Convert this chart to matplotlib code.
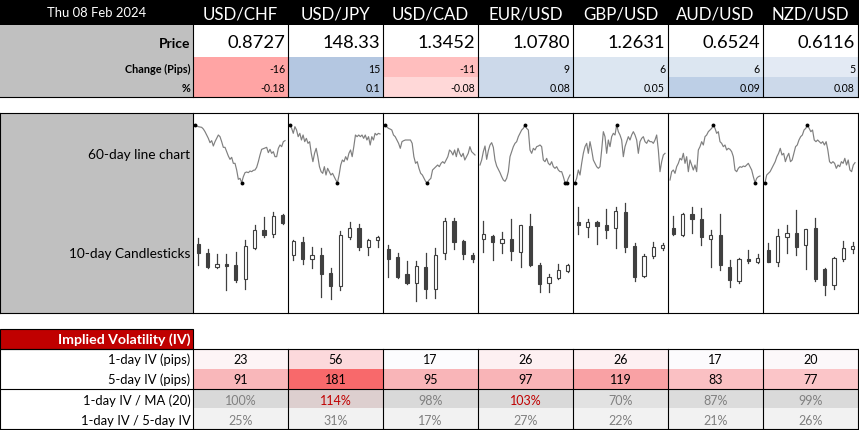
import matplotlib
matplotlib.use("Agg")
import matplotlib.pyplot as plt
from matplotlib.patches import Rectangle

plt.rcParams['font.family'] = ['Lato', 'DejaVu Sans']

# ---------------- data ----------------
date_label = "Thu 08 Feb 2024"
pairs = ["USD/CHF", "USD/JPY", "USD/CAD", "EUR/USD", "GBP/USD", "AUD/USD", "NZD/USD"]
prices = ["0.8727", "148.33", "1.3452", "1.0780", "1.2631", "0.6524", "0.6116"]
change_pips = [-16, 15, -11, 9, 6, 6, 5]
change_pct = [-0.18, 0.1, -0.08, 0.08, 0.05, 0.09, 0.08]

# 60-day line chart (relative index, read from sparklines)
line_chf = [173, 170, 168, 167, 166, 161, 153, 143, 133, 120, 126, 110, 123, 133, 143, 138, 123, 106, 106, 93,
            80, 70, 76, 58, 58, 38, 10, 13, 0, 18, 30, 32, 30, 35, 33, 37, 38, 46, 63, 83,
            100, 102, 104, 106, 90, 100, 88, 93, 78, 78, 103, 113, 108, 123, 126]
line_jpy = [173, 163, 148, 168, 158, 138, 148, 128, 143, 123, 133, 118, 123, 88, 63, 88, 103, 78, 48, 33,
            28, 48, 23, 43, 33, 23, 28, 18, 8, 0, 23, 53, 68, 63, 78, 68, 88, 98, 78, 108,
            143, 138, 143, 138, 143, 133, 143, 128, 138, 113, 138, 128, 148, 143, 148, 146]
line_cad = [173, 168, 163, 161, 158, 143, 138, 128, 118, 103, 123, 126, 128, 128, 128, 128, 118, 78, 58, 63,
            43, 28, 23, 13, 3, 0, 8, 13, 38, 43, 48, 53, 48, 58, 63, 58, 68, 78, 98, 93,
            83, 98, 78, 103, 88, 78, 88, 68, 78, 88, 108, 93, 88, 83]
line_eur = [53, 68, 93, 110, 70, 96, 113, 120, 106, 68, 50, 40, 30, 18, 8, 4, 13, 33, 78, 93,
            108, 118, 123, 138, 148, 158, 163, 173, 163, 158, 98, 88, 103, 98, 108, 110, 113, 108, 68, 63,
            73, 58, 53, 63, 48, 43, 48, 38, 33, 33, 18, 0, 0, 13, 23]
line_gbp = [0, 13, 38, 23, 58, 88, 108, 118, 88, 123, 98, 68, 58, 48, 43, 48, 98, 153, 138, 88,
            128, 108, 138, 148, 143, 173, 153, 143, 128, 78, 108, 123, 138, 128, 143, 153, 143, 128, 88, 123,
            133, 138, 123, 118, 128, 123, 123, 118, 128, 143, 98, 33, 63, 83, 88]
line_aud = [8, 33, 38, 28, 48, 58, 73, 68, 88, 58, 78, 33, 68, 53, 38, 53, 33, 98, 108, 123,
            113, 138, 143, 153, 158, 163, 173, 163, 148, 153, 123, 118, 108, 113, 98, 103, 100, 93, 78, 38,
            33, 43, 48, 46, 50, 48, 53, 58, 48, 38, 18, 0, 13, 18, 20]
line_nzd = [0, 23, 28, 33, 43, 53, 63, 78, 88, 103, 83, 88, 63, 78, 88, 63, 68, 88, 108, 113,
            128, 138, 143, 158, 163, 173, 163, 153, 158, 128, 123, 128, 123, 118, 123, 113, 123, 98, 63, 58,
            63, 58, 43, 53, 48, 63, 58, 73, 53, 68, 38, 33, 53, 60]
lines_60d = [line_chf, line_jpy, line_cad, line_eur, line_gbp, line_aud, line_nzd]

# 10-day candles: (open, high, low, close) relative index
ohlc_chf = [(207, 225, 145, 180), (180, 192, 137, 140), (138, 177, 136, 147), (147, 177, 70, 141), (144, 183, 93, 99),
            (104, 219, 72, 201), (197, 264, 194, 249), (249, 290, 229, 236), (237, 303, 229, 292), (296, 298, 268, 272)]
ohlc_jpy = [(174, 220, 159, 216), (214, 228, 147, 164), (164, 198, 135, 174), (174, 195, 50, 119), (121, 135, 42, 83),
            (83, 248, 70, 234), (230, 273, 223, 255), (255, 267, 190, 200), (200, 224, 175, 219), (219, 233, 198, 228)]
ohlc_cad = [(192, 204, 110, 162), (168, 180, 106, 110), (117, 156, 88, 90), (90, 156, 37, 141), (138, 180, 47, 74),
            (74, 195, 45, 174), (180, 285, 162, 277), (277, 285, 192, 215), (216, 219, 162, 177), (175, 180, 155, 164)]
ohlc_eur = [(222, 278, 183, 238), (232, 236, 159, 213), (210, 243, 180, 223), (223, 282, 159, 188), (183, 265, 138, 265),
            (262, 297, 143, 146), (145, 150, 63, 89), (90, 117, 63, 108), (105, 147, 103, 129), (128, 147, 125, 145)]
ohlc_gbp = [(274, 318, 239, 266), (258, 283, 229, 273), (273, 278, 207, 263), (265, 312, 225, 251), (255, 318, 195, 306),
            (303, 332, 185, 200), (202, 210, 96, 110), (112, 177, 108, 172), (171, 213, 167, 198), (196, 212, 190, 205)]
ohlc_aud = [(256, 293, 236, 239), (234, 302, 231, 297), (297, 318, 240, 282), (282, 315, 205, 228), (224, 249, 138, 234),
            (235, 297, 129, 146), (138, 159, 78, 99), (98, 165, 90, 163), (163, 189, 150, 156), (155, 177, 152, 165)]
ohlc_nzd = [(189, 212, 154, 155), (155, 252, 143, 232), (230, 265, 180, 241), (241, 309, 174, 200), (204, 252, 133, 252),
            (256, 285, 98, 104), (132, 135, 56, 86), (86, 168, 73, 166), (164, 218, 156, 195), (194, 215, 181, 202)]
candles_10d = [ohlc_chf, ohlc_jpy, ohlc_cad, ohlc_eur, ohlc_gbp, ohlc_aud, ohlc_nzd]

iv_row_labels = ["1-day IV (pips)", "5-day IV (pips)", "1-day IV / MA (20)", "1-day IV / 5-day IV"]
iv_1d = [23, 56, 17, 26, 26, 17, 20]
iv_5d = [91, 181, 95, 97, 119, 83, 77]
iv_ma_pct = [100, 114, 98, 103, 70, 87, 99]
iv_ratio_pct = [25, 31, 17, 27, 22, 21, 26]

# ---------------- styles ----------------
change_colors = ['#ffa4a4', '#b4c7e1', '#ffbebe', '#ccd9ea', '#dce6f1', '#dce6f1', '#e3eaf4']
pct_colors = ['#ffa4a4', '#b4c7e1', '#ffd8d8', '#ccd9ea', '#dce6f1', '#bdcfe6', '#ccd9ea']
iv1_colors = ['#fdf4f6', '#fcd9dc', '#fcfcfe', '#fdf0f2', '#fdf0f2', '#fcfbfd', '#fcf8fa']
iv5_colors = ['#f9b7ba', '#f8696b', '#f9b5b8', '#f9b4b7', '#f9a1a4', '#fac0c3', '#fbc5c8']
ivma_colors = ['#d9d9d9', '#ddcfcf', '#d9d9d9', '#d9d9d9', '#e2e2e2', '#dcdcdc', '#dadada']
ivr_color = '#f2f2f2'
label_gray = '#c0c0c0'
dark = '#404040'

W, H = 859, 430
fig = plt.figure(figsize=(W / 100, H / 100), dpi=100)
bg = fig.add_axes([0, 0, 1, 1])
bg.set_xlim(0, W)
bg.set_ylim(H, 0)
bg.axis('off')

col0 = 193
cw = 95
ncol = len(pairs)
right = col0 + cw * ncol
LW = 0.8


def rect(x, y, w, h, fc, ec='none', lw=0, z=1):
    bg.add_patch(Rectangle((x, y), w, h, facecolor=fc, edgecolor=ec, linewidth=lw, zorder=z))


def hline(y, x0, x1):
    bg.plot([x0, x1], [y, y], color='black', lw=LW, zorder=5, solid_capstyle='projecting')


def vline(x, y0, y1):
    bg.plot([x, x], [y0, y1], color='black', lw=LW, zorder=5, solid_capstyle='projecting')


# ---------- top table ----------
rect(0, 0, W, 25, 'black')
bg.text(col0 / 2, 17.3, date_label, color='white', fontsize=9.4, ha='center', va='baseline')
for i, p in enumerate(pairs):
    bg.text(col0 + cw * i + cw / 2, 19.3, p, color='white', fontsize=12.2, ha='center', va='baseline')

rect(0, 25, col0, 72, label_gray)
bg.text(190.5, 47.7, "Price", fontsize=10, fontweight='bold', ha='right', va='baseline')
bg.text(190.5, 73.3, "Change (Pips)", fontsize=7.8, fontweight='bold', ha='right', va='baseline')
bg.text(190.5, 92.3, "%", fontsize=7.8, fontweight='bold', ha='right', va='baseline')
for i in range(ncol):
    x = col0 + cw * i
    rect(x, 57, cw, 20, change_colors[i])
    rect(x, 77, cw, 20, pct_colors[i])
    bg.text(x + cw - 3, 48.3, prices[i], fontsize=13.2, ha='right', va='baseline')
    bg.text(x + cw - 3, 73.3, f"{change_pips[i]}", fontsize=7.6, ha='right', va='baseline')
    bg.text(x + cw - 3, 92.3, f"{change_pct[i]:g}", fontsize=7.6, ha='right', va='baseline')
hline(96.7, 0, right)
for i in range(ncol + 1):
    vline(col0 + cw * i, 25, 96.7)

# ---------- chart panel ----------
ptop, pbot = 113, 313
rect(0, ptop, col0, pbot - ptop, label_gray)
hline(ptop, 0, right)
hline(pbot, 0, right)
vline(0.4, ptop, pbot)
for i in range(ncol + 1):
    vline(col0 + cw * i, ptop, pbot)
bg.text(190.5, 155, "60-day line chart", fontsize=9.8, ha='right', va='center')
bg.text(190.5, 254.5, "10-day Candlesticks", fontsize=9.8, ha='right', va='center')


def px_axes(x0, y0, w, h):
    a = fig.add_axes([x0 / W, 1 - (y0 + h) / H, w / W, h / H])
    a.axis('off')
    a.patch.set_alpha(0)
    return a


for i in range(ncol):
    x = col0 + cw * i
    # line chart
    s = lines_60d[i]
    n = len(s)
    la = px_axes(x, ptop, cw, 87)
    span = (n - 1) * cw / (cw - 5)
    a0 = -2 * span / cw
    la.set_xlim(a0, a0 + span)
    la.set_ylim(-52, 209)
    la.plot(range(n), s, color='#7f7f7f', lw=0.85)
    hi, lo = max(s), min(s)
    mx = [k for k, v in enumerate(s) if v == hi or v == lo]
    la.plot(mx, [s[k] for k in mx], 'o', color='black', ms=2.8, mec='black', mew=0)
    # candles
    ca = px_axes(x, 200, cw, 113)
    ca.set_xlim(-0.55, 9.55)
    ca.set_ylim(1, 340)
    for k, (o, h, l, c) in enumerate(candles_10d[i]):
        ca.plot([k, k], [l, h], color=dark, lw=0.9, zorder=1)
        bull = c >= o
        ca.bar(k, abs(c - o) if abs(c - o) > 0 else 1, bottom=min(o, c), width=0.34,
               color='white' if bull else dark, edgecolor=dark, linewidth=0.8, zorder=2)

# ---------- IV table ----------
rect(0, 329, col0, 20, '#c00000', ec='black', lw=LW, z=4)
bg.text(190.5, 344, "Implied Volatility (IV)", fontsize=10.2, fontweight='bold', color='white',
        ha='right', va='baseline', zorder=6)
baselines = [364.5, 384.3, 405, 425]
for r in range(4):
    bg.text(190.5, baselines[r], iv_row_labels[r], fontsize=9.4, ha='right', va='baseline')
for i in range(ncol):
    x = col0 + cw * i
    rect(x, 349, cw, 20, iv1_colors[i])
    rect(x, 369, cw, 20, iv5_colors[i])
    rect(x, 389, cw, 19, ivma_colors[i])
    rect(x, 408, cw, 21, ivr_color)
    cx = x + cw / 2
    bg.text(cx, baselines[0], f"{iv_1d[i]}", fontsize=9.0, ha='center', va='baseline')
    bg.text(cx, baselines[1], f"{iv_5d[i]}", fontsize=9.0, ha='center', va='baseline')
    bg.text(cx, baselines[2], f"{iv_ma_pct[i]}%", fontsize=9.0, ha='center', va='baseline',
            color='#c00000' if iv_ma_pct[i] > 100 else '#808080')
    bg.text(cx, baselines[3], f"{iv_ratio_pct[i]}%", fontsize=9.0, ha='center', va='baseline', color='#808080')
hline(349, 0, right)
hline(389, 0, right)
hline(428.6, 0, right)
vline(0.4, 349, 428.6)
for i in range(ncol + 1):
    vline(col0 + cw * i, 349, 428.6)

fig.savefig("out.png", dpi=100)
